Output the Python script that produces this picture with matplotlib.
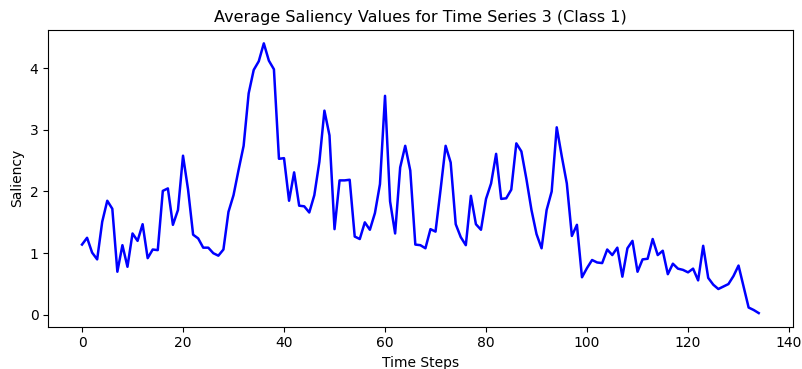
import matplotlib
matplotlib.use("Agg")
import matplotlib.pyplot as plt
import numpy as np

saliency = [
    1.14, 1.25, 1.01, 0.90, 1.51, 1.85, 1.72, 0.70, 1.13, 0.78,
    1.32, 1.20, 1.47, 0.92, 1.06, 1.05, 2.01, 2.05, 1.46, 1.70,
    2.58, 2.03, 1.30, 1.24, 1.09, 1.09, 1.00, 0.96, 1.06, 1.67,
    1.94, 2.35, 2.74, 3.59, 3.97, 4.11, 4.40, 4.12, 3.98, 2.53,
    2.54, 1.85, 2.31, 1.77, 1.76, 1.66, 1.94, 2.48, 3.31, 2.91,
    1.39, 2.18, 2.18, 2.19, 1.27, 1.23, 1.50, 1.38, 1.65, 2.12,
    3.55, 1.84, 1.32, 2.39, 2.74, 2.34, 1.14, 1.13, 1.08, 1.39,
    1.35, 2.03, 2.74, 2.47, 1.47, 1.26, 1.13, 1.93, 1.47, 1.38,
    1.88, 2.13, 2.61, 1.88, 1.89, 2.03, 2.78, 2.65, 2.20, 1.70,
    1.31, 1.08, 1.70, 2.00, 3.04, 2.57, 2.13, 1.28, 1.46, 0.61,
    0.76, 0.89, 0.85, 0.84, 1.06, 0.97, 1.09, 0.62, 1.08, 1.20,
    0.70, 0.90, 0.91, 1.23, 0.97, 1.04, 0.66, 0.83, 0.75, 0.73,
    0.69, 0.75, 0.56, 1.12, 0.60, 0.49, 0.42, 0.46, 0.50, 0.63,
    0.80, 0.46, 0.12, 0.08, 0.03,
]
time_steps = np.arange(len(saliency))

fig = plt.figure(figsize=(8.03, 3.69), dpi=100)
ax = fig.add_axes([0.06, 0.115, 0.927, 0.804])
ax.plot(time_steps, saliency, color="blue", linewidth=1.8)
ax.set_title("Average Saliency Values for Time Series 3 (Class 1)", fontsize=11.5)
ax.set_xlabel("Time Steps", fontsize=10)
ax.set_ylabel("Saliency", fontsize=10)
ax.tick_params(labelsize=10)
fig.savefig("out.png", dpi=100)
